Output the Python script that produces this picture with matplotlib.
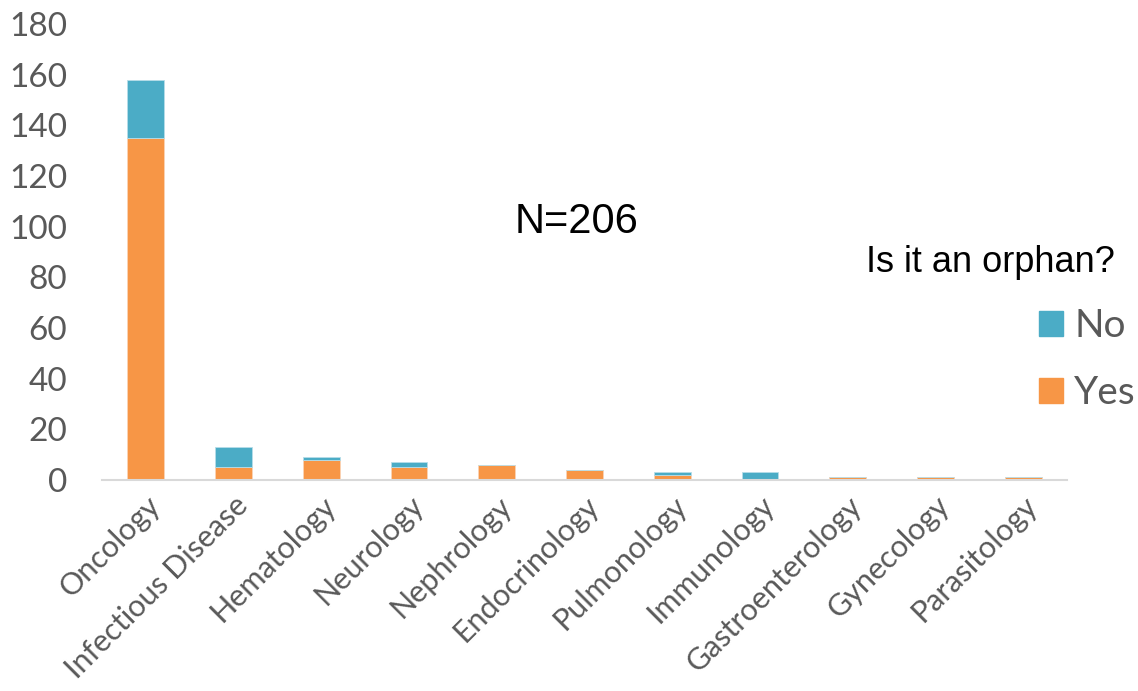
import matplotlib.pyplot as plt
from matplotlib.patches import Patch

# datos del grafico
categorias = ["Oncology", "Infectious Disease", "Hematology", "Neurology", "Nephrology",
              "Endocrinology", "Pulmonology", "Immunology", "Gastroenterology",
              "Gynecology", "Parasitology"]
yes_vals = [135, 5, 8, 5, 6, 4, 2, 0, 1, 1, 1]
no_vals = [23, 8, 1, 2, 0, 0, 1, 3, 0, 0, 0]
y_ticks = [0, 20, 40, 60, 80, 100, 120, 140, 160, 180]

color_yes = "#F79646"
color_no = "#4BACC6"
gris = "#595959"

fig = plt.figure(figsize=(11.38, 6.91), dpi=100)
ax = fig.add_axes([0.0896, 0.3054, 0.848, 0.66])

x = range(len(categorias))
ax.bar(x, yes_vals, width=0.42, color=color_yes, edgecolor="#FAD3B5", linewidth=0.6)
ax.bar(x, no_vals, width=0.42, bottom=yes_vals, color=color_no, edgecolor="#B7DDE8", linewidth=0.6)

ax.set_xlim(-0.5, len(categorias) - 0.5)
ax.set_ylim(0, 180)
ax.set_yticks(y_ticks)
ax.set_yticklabels([str(v) for v in y_ticks], fontsize=24, family="Lato", color=gris)
ax.set_xticks(list(x))
ax.set_xticklabels(categorias, rotation=45, ha="right", rotation_mode="anchor",
                   fontsize=22, family="Lato", color=gris)
ax.tick_params(axis="both", length=0)
ax.tick_params(axis="y", pad=25)
ax.tick_params(axis="x", pad=8)

for lado in ["top", "right", "left"]:
    ax.spines[lado].set_visible(False)
ax.spines["bottom"].set_color("#D9D9D9")
ax.spines["bottom"].set_linewidth(1.5)

fig.text(577 / 1138, 1 - 222 / 691, "N=206", fontsize=30, family="Liberation Sans",
         ha="center", va="center", color="black")

# titulo de la leyenda
fig.text(1115 / 1138, 1 - 262 / 691, "Is it an orphan?", fontsize=26, family="Liberation Sans",
         ha="right", va="center", color="black")

handles = [Patch(color=color_no, label="No"), Patch(color=color_yes, label="Yes")]
leg = ax.legend(handles=handles, loc="upper right", bbox_to_anchor=(1136 / 1138, 1 - 308 / 691),
                bbox_transform=fig.transFigure, frameon=False,
                prop={"family": "Lato", "size": 28}, labelcolor=gris,
                handlelength=0.62, handleheight=0.62, handletextpad=0.3,
                labelspacing=0.8, borderpad=0.0, borderaxespad=0.0)

fig.savefig("out.png", dpi=100)
